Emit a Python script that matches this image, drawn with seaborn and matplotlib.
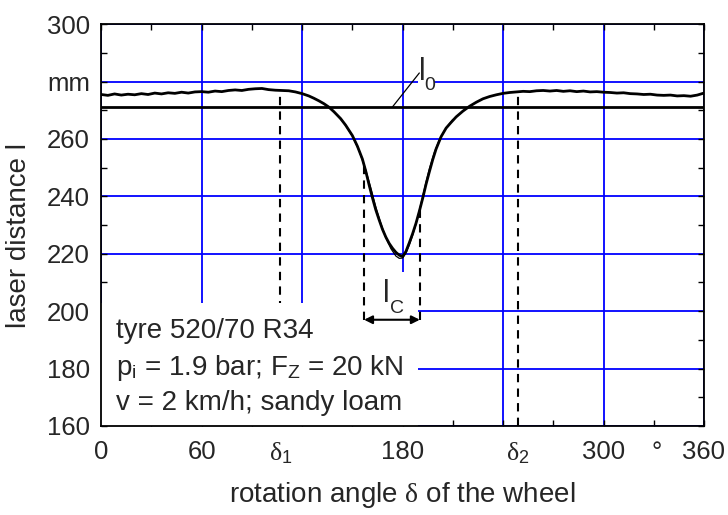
import matplotlib
matplotlib.use("Agg")
import matplotlib.pyplot as plt
import numpy as np
import pandas as pd
import seaborn as sns
from matplotlib.patches import Rectangle
from matplotlib.ticker import MultipleLocator

angle = [0, 4, 8, 12, 16, 20, 24, 28, 32, 36, 40, 44, 48, 52, 56, 60, 64, 68, 72, 76,
         80, 84, 88, 92, 96, 100, 104, 108, 112, 116, 120, 124, 127, 130, 133, 136, 139,
         143, 146, 150, 153, 156, 158, 160, 162, 164, 166, 168, 170, 172, 174, 176, 178,
         180, 182, 184, 186, 188, 190, 192, 194, 196, 198, 200, 203, 206, 209, 212, 216,
         220, 224, 228, 232, 236, 240, 244, 248, 252, 256, 260, 264, 268, 272, 276, 280,
         284, 288, 292, 296, 300, 304, 308, 312, 316, 320, 324, 328, 332, 336, 340, 344,
         348, 352, 356, 360]
distance = [275.5, 275.2, 275.7, 275.3, 275.6, 275.4, 275.8, 275.5, 276.0, 275.7, 276.1,
            275.9, 276.3, 276.0, 276.4, 276.5, 276.3, 276.7, 276.5, 276.9, 277.1, 276.9,
            277.3, 277.5, 277.6, 277.2, 277.0, 276.9, 276.8, 276.4, 275.8, 275.0, 274.2,
            273.3, 272.3, 271.1, 269.5, 267.1, 264.8, 261.2, 257.5, 253.0, 248.8, 244.0,
            239.5, 235.3, 231.8, 228.5, 225.8, 223.6, 221.9, 220.5, 219.5, 219.0, 220.8,
            223.8, 227.0, 230.6, 234.8, 239.3, 244.2, 248.6, 252.8, 256.5, 260.8, 263.8,
            265.8, 267.7, 269.7, 271.4, 272.8, 274.0, 274.8, 275.4, 275.9, 276.2, 276.4,
            276.6, 276.5, 276.8, 276.9, 276.7, 276.9, 276.6, 276.8, 276.5, 276.7, 276.4,
            276.5, 276.3, 276.2, 276.0, 276.1, 275.8, 275.7, 275.5, 275.6, 275.3, 275.2,
            275.3, 275.0, 275.1, 274.9, 275.3, 276.0]

# thin fitted contour in the contact zone
fit_angle = [140, 145, 150, 154, 158, 161, 164, 167, 170, 173, 176, 178, 180, 182, 184,
             186, 188, 190, 192, 194, 196, 199, 202, 206, 210]
fit_distance = [268.8, 265.6, 261.0, 256.0, 249.2, 243.0, 236.3, 230.6, 225.6, 221.8,
                219.2, 218.4, 218.5, 220.2, 223.0, 226.4, 230.4, 235.0, 240.0, 245.0,
                249.6, 255.4, 259.8, 263.8, 266.8]

l0 = 271.2
delta1 = 107
delta2 = 249
lc_start = 157
lc_end = 190.3
lc_level = 197

x_ticks = [0, 60, 120, 180, 240, 300, 360]
x_labels = ["0", "60", "", "180", "", "300", "360"]
y_ticks = [160, 180, 200, 220, 240, 260, 280, 300]
y_labels = ["160", "180", "200", "220", "240", "260", "mm", "300"]

sns.set_theme(style="ticks")
plt.rcParams["font.family"] = ["Liberation Sans", "DejaVu Sans"]
plt.rcParams["mathtext.fontset"] = "custom"
plt.rcParams["mathtext.rm"] = "Liberation Sans"
plt.rcParams["mathtext.it"] = "Liberation Serif"
fs = 18.5
fs_text = 20

df = pd.DataFrame({"angle": angle, "distance": distance})
fit_df = pd.DataFrame({"angle": fit_angle, "distance": fit_distance})

fig = plt.figure(figsize=(7.28, 5.15), dpi=100)
ax = fig.add_axes([0.139, 0.173, 0.828, 0.780])

ax.set_xlim(0, 360)
ax.set_ylim(160, 300)
ax.set_xticks(x_ticks)
ax.set_xticklabels(x_labels)
ax.set_yticks(y_ticks)
ax.set_yticklabels(y_labels)
ax.xaxis.set_minor_locator(MultipleLocator(30))
ax.yaxis.set_minor_locator(MultipleLocator(10))
ax.tick_params(which="both", direction="in", top=True, right=True, color="black",
               width=1.0)
ax.tick_params(which="major", length=4, labelsize=fs)
ax.tick_params(axis="x", which="major", pad=10)
ax.tick_params(axis="y", which="major", pad=8)
ax.tick_params(which="minor", length=4)
ax.grid(True, which="major", color="#0000ff", linewidth=1.3, zorder=0)
ax.set_axisbelow(True)
for s in ax.spines.values():
    s.set_linewidth(1.3)
    s.set_color("black")

# white boxes behind the annotations
ax.add_patch(Rectangle((0, 160), 189, 43, facecolor="white", edgecolor="none", zorder=1))
ax.add_patch(Rectangle((165, 203), 24, 10.5, facecolor="white", edgecolor="none", zorder=1))
ax.add_patch(Rectangle((189, 276), 10, 12.5, facecolor="white", edgecolor="none", zorder=1))

sns.lineplot(data=df, x="angle", y="distance", ax=ax, color="black", linewidth=2.0,
             sort=False, estimator=None, zorder=4)
sns.lineplot(data=fit_df, x="angle", y="distance", ax=ax, color="black", linewidth=0.9,
             sort=False, estimator=None, zorder=4)
ax.axhline(l0, color="black", linewidth=2.0, zorder=4)

# dashed markers (delta lines run under the text box)
for d in [delta1, delta2]:
    top = np.interp(d, angle, distance)
    ax.plot([d, d], [160, top - 0.6], color="black", linestyle=(0, (4, 3)), linewidth=1.5,
            zorder=0.8)
for d in [lc_start, lc_end]:
    top = np.interp(d, angle, distance)
    ax.plot([d, d], [lc_level, top], color="black", linestyle=(0, (4, 3)), linewidth=1.5,
            zorder=3)
ax.annotate("", xy=(lc_start, lc_level), xytext=(lc_end, lc_level),
            arrowprops=dict(arrowstyle="<|-|>", color="black", lw=1.5,
                            mutation_scale=12, shrinkA=0, shrinkB=0), zorder=5)
ax.text(170.5, 203.2, "l", fontsize=22, ha="center", va="baseline", zorder=5)
ax.text(176.7, 199.3, "C", fontsize=14, ha="center", va="baseline", zorder=5)

# l0 label with leader line
ax.plot([174, 190], [l0, 283], color="black", linewidth=0.9, zorder=5)
ax.text(191.5, 280.5, "l", fontsize=22, ha="center", va="baseline", zorder=5)
ax.text(196.0, 276.9, "0", fontsize=14, ha="center", va="baseline", zorder=5)

# extra x labels
trans = ax.get_xaxis_transform()
ax.text(delta1, -0.037, r"$\delta_1$", transform=trans, fontsize=fs, ha="center",
        va="top")
ax.text(delta2, -0.037, r"$\delta_2$", transform=trans, fontsize=fs, ha="center",
        va="top")
ax.text(332, -0.037, "°", transform=trans, fontsize=fs, ha="center", va="top")

# test conditions
ax.text(9, 190.6, "tyre 520/70 R34", fontsize=fs_text, ha="left", va="baseline", zorder=5)
ax.text(9, 177.7, r"$\mathrm{p}_\mathrm{i}$ = 1.9 bar; $\mathrm{F}_\mathrm{Z}$ = 20 kN",
        fontsize=fs_text, ha="left", va="baseline", zorder=5)
ax.text(9, 165.6, "v = 2 km/h; sandy loam", fontsize=fs_text, ha="left", va="baseline",
        zorder=5)

ax.set_xlabel(r"rotation angle $\delta$ of the wheel", fontsize=fs_text)
ax.set_ylabel("laser distance l", fontsize=fs_text)
ax.xaxis.set_label_coords(0.5, -0.135)
ax.yaxis.set_label_coords(-0.114, 0.475)

fig.savefig("out.png", dpi=100)
